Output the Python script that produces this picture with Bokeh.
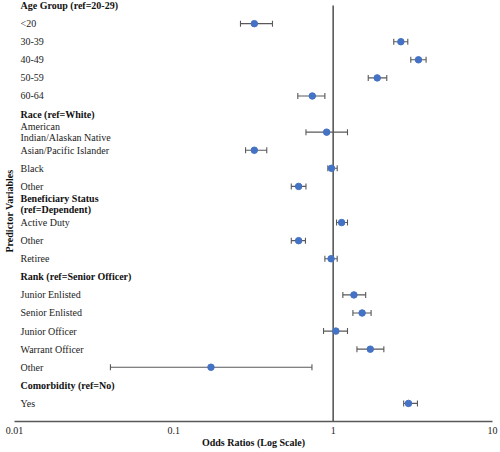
import math
from bokeh.plotting import figure
from bokeh.models import ColumnDataSource, FixedTicker, Whisker, TeeHead
from bokeh.core.properties import value
from bokeh.embed import file_html
from bokeh.resources import INLINE

# ---- data ----
row_labels = [
    "Age Group (ref=20-29)", "<20", "30-39", "40-49", "50-59", "60-64",
    "Race (ref=White)", "American\nIndian/Alaskan Native", "Asian/Pacific Islander", "Black", "Other",
    "Beneficiary Status\n(ref=Dependent)", "Active Duty", "Other", "Retiree",
    "Rank (ref=Senior Officer)", "Junior Enlisted", "Senior Enlisted", "Junior Officer", "Warrant Officer", "Other",
    "Comorbidity (ref=No)", "Yes",
]
is_header = [
    True, False, False, False, False, False,
    True, False, False, False, False,
    True, False, False, False,
    True, False, False, False, False, False,
    True, False,
]
# values for the non-header rows, in order
odds_ratio = [0.32, 2.66, 3.43, 1.89, 0.74,
              0.91, 0.32, 0.976, 0.607,
              1.13, 0.607, 0.97,
              1.35, 1.52, 1.04, 1.71, 0.171,
              2.97]
ci_lower = [0.262, 2.40, 3.07, 1.66, 0.60,
            0.675, 0.282, 0.926, 0.546,
            1.05, 0.546, 0.887,
            1.15, 1.33, 0.87, 1.41, 0.040,
            2.77]
ci_upper = [0.416, 2.94, 3.83, 2.17, 0.887,
            1.23, 0.383, 1.06, 0.675,
            1.23, 0.67, 1.06,
            1.60, 1.73, 1.23, 2.08, 0.736,
            3.38]
x_ticks = [0.01, 0.1, 1, 10]
x_tick_labels = ["0.01", "0.1", "1", "10"]

FONT = "Liberation Serif"
GRAY = "#595959"
BLUE = "#4472C4"

n_rows = len(row_labels)
data_rows = [i for i, h in enumerate(is_header) if not h]

p = figure(
    width=500, height=460,
    frame_width=478, frame_height=421,
    x_axis_type="log",
    x_range=(0.01, 10),
    y_range=(n_rows, -0.28),
    output_backend="svg",
    toolbar_location=None,
    min_border_left=0, min_border_right=8, min_border_top=0, min_border_bottom=0,
)
p.outline_line_color = None
p.xgrid.visible = False
p.ygrid.visible = False

# y axis: only its title is shown
yax = p.yaxis[0]
yax.ticker = FixedTicker(ticks=[])
yax.axis_line_color = None
yax.major_tick_line_color = None
yax.minor_tick_line_color = None
yax.major_tick_out = 0
yax.major_tick_in = 0
yax.minor_tick_out = 0
yax.minor_tick_in = 0
yax.major_label_standoff = 0
yax.major_label_text_font_size = "0px"
yax.axis_label = "Predictor Variables"
yax.axis_label_text_font = FONT
yax.axis_label_text_font_size = "10px"
yax.axis_label_text_font_style = "bold"
yax.axis_label_text_color = "#111111"
yax.axis_label_standoff = 0

ax = p.xaxis[0]
ax.ticker = FixedTicker(ticks=x_ticks)
ax.major_label_overrides = {t: l for t, l in zip(x_ticks, x_tick_labels)}
ax.major_tick_line_color = None
ax.minor_tick_line_color = None
ax.major_tick_out = 0
ax.major_tick_in = 0
ax.minor_tick_out = 0
ax.minor_tick_in = 0
ax.axis_line_color = GRAY
ax.axis_line_width = 1.5
ax.major_label_text_font = FONT
ax.major_label_text_font_size = "10px"
ax.major_label_text_color = "#222222"
ax.major_label_standoff = 5
ax.axis_label = "Odds Ratios (Log Scale)"
ax.axis_label_text_font = FONT
ax.axis_label_text_font_size = "10px"
ax.axis_label_text_font_style = "bold"
ax.axis_label_text_color = "#111111"
ax.axis_label_standoff = 0

# reference line at OR = 1
p.segment(x0=[1], y0=[0], x1=[1], y1=[n_rows], line_color=GRAY, line_width=1.6)

# error bars + points
src = ColumnDataSource(dict(y=data_rows, orr=odds_ratio, lo=ci_lower, hi=ci_upper))
wh = Whisker(source=src, base="y", lower="lo", upper="hi", dimension="width",
             line_color=GRAY, line_width=1.1,
             lower_head=TeeHead(size=6, line_color=GRAY, line_width=1.1),
             upper_head=TeeHead(size=6, line_color=GRAY, line_width=1.1))
p.add_layout(wh)
p.scatter(x="orr", y="y", source=src, size=6.5, fill_color=BLUE, line_color=BLUE)

# row labels (left aligned inside the plot)
hdr_idx = [i for i, h in enumerate(is_header) if h]
lbl_idx = data_rows
p.text(x=[0.01] * len(hdr_idx), y=hdr_idx, text=[row_labels[i] for i in hdr_idx],
       x_offset=6, text_font=value(FONT), text_font_size="10px", text_font_style="bold",
       text_baseline="middle", text_align="left", text_line_height=1.0, text_color="#111111")
p.text(x=[0.01] * len(lbl_idx), y=lbl_idx, text=[row_labels[i] for i in lbl_idx],
       x_offset=6, text_font=value(FONT), text_font_size="10px",
       text_baseline="middle", text_align="left", text_line_height=1.0, text_color="#222222")

open("out.html", "w").write(file_html(p, INLINE))
